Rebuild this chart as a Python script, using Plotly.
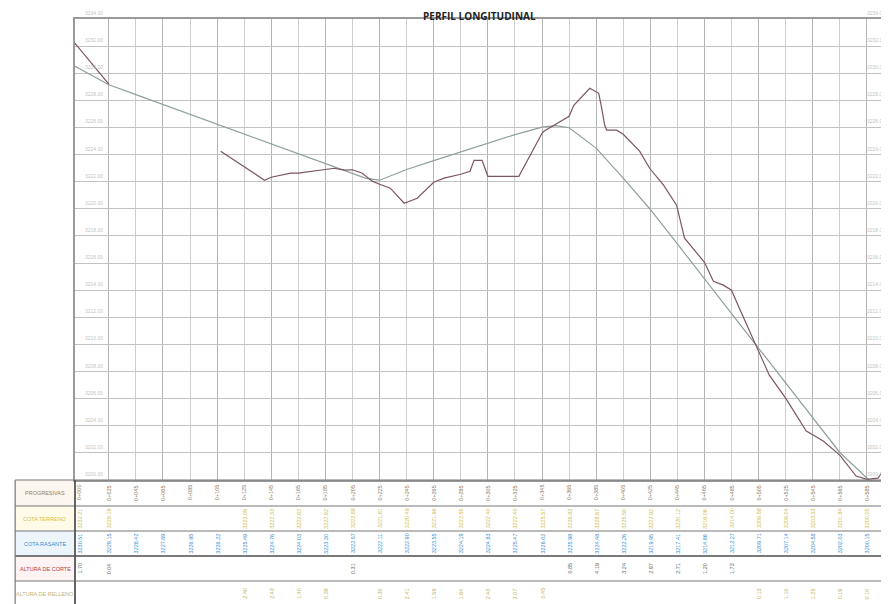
import plotly.graph_objects as go

# ---------------- data ----------------
title_text = "PERFIL LONGITUDINAL"
row_labels = ["PROGRESIVAS", "COTA TERRENO", "COTA RASANTE", "ALTURA DE CORTE", "ALTURA DE RELLENO"]

progresivas = [0, 25, 45, 65, 85, 105, 125, 145, 165, 185, 205, 225, 245, 265, 285, 305,
               325, 345, 365, 385, 405, 425, 445, 465, 485, 505, 525, 545, 565, 585, 597.5]

cota_terreno_est = [3232.21, 3229.19, None, None, None, None, 3223.09, 3222.33, 3222.63, 3222.92,
                    3222.88, 3221.81, 3220.49, 3221.96, 3222.55, 3222.40, 3222.40, 3225.57, 3226.83,
                    3228.67, 3225.50, 3222.92, 3220.12, 3216.06, 3214.00, 3209.58, 3206.04, 3203.33,
                    3201.84, 3200.05, 3200.73]

cota_rasante_est = [3230.51, 3229.15, 3228.42, 3227.69, 3226.95, 3226.22, 3225.49, 3224.76, 3224.03,
                    3223.30, 3222.57, 3222.11, 3222.90, 3223.55, 3224.19, 3224.83, 3225.47, 3226.02,
                    3225.98, 3224.48, 3222.26, 3219.95, 3217.41, 3214.86, 3212.27, 3209.71, 3207.14,
                    3204.58, 3202.03, 3200.15, 3199.11]

# terrain profile (with a gap where no terrain was surveyed)
terreno_x = [0, 25, None, 107.6, 125, 140.0, 145, 159.2, 165, 185, 191.6, 199, 205, 212.2, 219.6, 225,
             232.9, 243.2, 245, 252.8, 265, 272.7, 285, 291.8, 294.8, 300.7, 305, 325, 327.9, 345,
             346.4, 365, 368.5, 380.3, 386.9, 389.1, 391.3, 392.8, 400.1, 405, 417.1, 424.5, 434.8,
             444.4, 450.3, 465, 471.6, 479.0, 485, 490.8, 505, 512.9, 525, 540.2, 545, 552.7, 565,
             577.0, 585, 593.2, 597.5, 599.0]
terreno_z = [3232.21, 3229.19, None, 3224.25, 3223.09, 3222.11, 3222.33, 3222.63, 3222.63, 3222.92,
             3222.99, 3222.85, 3222.88, 3222.63, 3222.04, 3221.81, 3221.52, 3220.41, 3220.49,
             3220.78, 3221.96, 3222.26, 3222.55, 3222.77, 3223.58, 3223.58, 3222.40, 3222.40,
             3222.40, 3225.57, 3225.72, 3226.83, 3227.64, 3228.89, 3228.52, 3227.42, 3226.16,
             3225.80, 3225.80, 3225.50, 3224.25, 3222.99, 3221.74, 3220.27, 3217.83, 3216.06,
             3214.66, 3214.37, 3214.00, 3212.67, 3209.58, 3207.73, 3206.04, 3203.61, 3203.33,
             3202.87, 3201.84, 3200.29, 3200.05, 3200.14, 3200.73, 3200.95]

# design grade (rasante)
rasante_x = [0, 25, 45, 65, 85, 105, 125, 145, 165, 185, 205, 215, 225, 245, 265, 285, 305, 325,
             345, 355, 365, 385, 405, 425, 445, 465, 485, 505, 525, 545, 565, 585, 597.5]
rasante_z = [3230.51, 3229.15, 3228.42, 3227.69, 3226.95, 3226.22, 3225.49, 3224.76, 3224.03,
             3223.30, 3222.57, 3222.25, 3222.11, 3222.90, 3223.55, 3224.19, 3224.83, 3225.47,
             3226.02, 3226.14, 3225.98, 3224.48, 3222.26, 3219.95, 3217.41, 3214.86, 3212.27,
             3209.71, 3207.14, 3204.58, 3202.03, 3200.15, 3199.11]

cotas_grid = [3200, 3202, 3204, 3206, 3208, 3210, 3212, 3214, 3216, 3218, 3220, 3222, 3224,
              3226, 3228, 3230, 3232, 3234]

# ---------------- figure ----------------
W, H = 889, 604
L, R, T, B = 67, 7, 11, 132
PW, PH = W - L - R, H - T - B


def py(Y):  # pixel row -> paper y
    return (H - B - Y) / PH


def px(X):  # pixel column -> paper x
    return (X - L) / PW


fig = go.Figure()

fig.add_trace(go.Scatter(x=rasante_x, y=rasante_z, mode="lines",
                         line=dict(color="#8fa09c", width=1.2), hoverinfo="skip", showlegend=False))
fig.add_trace(go.Scatter(x=terreno_x, y=terreno_z, mode="lines", connectgaps=False,
                         line=dict(color="#7d5560", width=1.2), hoverinfo="skip", showlegend=False))

major_x = [p for i, p in enumerate(progresivas) if i % 2 == 1 and p < 590]
minor_x = [p for i, p in enumerate(progresivas) if i % 2 == 0 and 0 < p < 590]

fig.update_xaxes(range=[0, 600.6], tickvals=major_x, showticklabels=False, ticks="",
                 showgrid=True, gridcolor="#b4b4b4", gridwidth=1,
                 minor=dict(tickvals=minor_x, showgrid=True, gridcolor="#cfcfcf", gridwidth=1, ticks=""),
                 showline=True, linecolor="#9a9a9a", linewidth=1.5, mirror=True, zeroline=False)
fig.update_yaxes(range=[3200, 3234], tickvals=cotas_grid, showticklabels=False, ticks="",
                 showgrid=True, gridcolor="#c2c2c2", gridwidth=1,
                 showline=True, linecolor="#9a9a9a", linewidth=1.5, mirror=True, zeroline=False)

shapes = []
annotations = []

# title
annotations.append(dict(text="<b>" + title_text + "</b>", xref="paper", yref="paper",
                        x=px(472), y=py(8), xanchor="center", yanchor="middle", showarrow=False,
                        font=dict(family="Open Sans, Arial", size=10, color="#222")))

# elevation labels inside plot, left and right
for c in cotas_grid:
    for xx in (px(86), px(870)):
        annotations.append(dict(text=f"{c:.2f}", xref="paper", yref="y", x=xx, y=c,
                                xanchor="center", yanchor="bottom", yshift=1, showarrow=False,
                                font=dict(family="Arial", size=5, color="#c4c4c4")))

# ---------------- table ----------------
row_lines = [472, 498, 523, 548, 573, 598]
label_fill = ["#fbf6ee", "#fffbe8", "#edf5fc", "#fdf3f3", "#ffffff"]
label_color = ["#a07a55", "#cfbf5a", "#3d8ccb", "#b04444", "#c4b676"]
value_color = ["#8c7a62", "#d0bd55", "#3a8fd0", "#666666", "#c2b25e"]

for r in range(5):
    shapes.append(dict(type="rect", xref="paper", yref="paper", x0=px(7), x1=px(67),
                       y0=py(row_lines[r + 1]), y1=py(row_lines[r]), fillcolor=label_fill[r],
                       line=dict(width=0), layer="below"))
for k, Y in enumerate(row_lines):
    col = "#4e4e4e" if Y == 548 else "#777777"
    wdt = 1.6 if Y == 548 else 1.2
    shapes.append(dict(type="line", xref="paper", yref="paper", x0=px(7), x1=px(882),
                       y0=py(Y), y1=py(Y), line=dict(color=col, width=wdt)))
for X, col, wdt in ((7, "#777777", 1.2), (67, "#555555", 1.8), (882, "#999999", 1.2)):
    shapes.append(dict(type="line", xref="paper", yref="paper", x0=px(X), x1=px(X),
                       y0=py(598), y1=py(472), line=dict(color=col, width=wdt)))

for r, lab in enumerate(row_labels):
    yc = py((row_lines[r] + row_lines[r + 1]) / 2)
    annotations.append(dict(text=lab, xref="paper", yref="paper", x=px(37), y=yc,
                            xanchor="center", yanchor="middle", showarrow=False,
                            font=dict(family="Arial", size=5.5, color=label_color[r])))


def fmt_prog(p):
    km = int(p // 1000)
    m = p - km * 1000
    if abs(m - round(m)) < 1e-9:
        return f"{km}+{int(round(m)):03d}"
    return f"{km}+{m:06.2f}"


for i, p in enumerate(progresivas):
    t = cota_terreno_est[i]
    ra = cota_rasante_est[i]
    cells = [fmt_prog(p), None if t is None else f"{t:.2f}", f"{ra:.2f}", None, None]
    if t is not None:
        d = t - ra
        if d >= 0:
            cells[3] = f"{d:.2f}"
        else:
            cells[4] = f"{-d:.2f}"
    xs = 4 if i == 0 else 0
    for r in range(5):
        if cells[r] is None:
            continue
        yc = py((row_lines[r] + row_lines[r + 1]) / 2)
        annotations.append(dict(text=cells[r], xref="x", yref="paper", x=p, y=yc, xshift=xs,
                                xanchor="center", yanchor="middle", textangle=-90, showarrow=False,
                                font=dict(family="Arial", size=5.5, color=value_color[r])))

fig.update_layout(width=W, height=H, margin=dict(l=L, r=R, t=T, b=B, pad=0),
                  plot_bgcolor="white", paper_bgcolor="white", showlegend=False,
                  shapes=shapes, annotations=annotations)

fig.write_html("out.html")
